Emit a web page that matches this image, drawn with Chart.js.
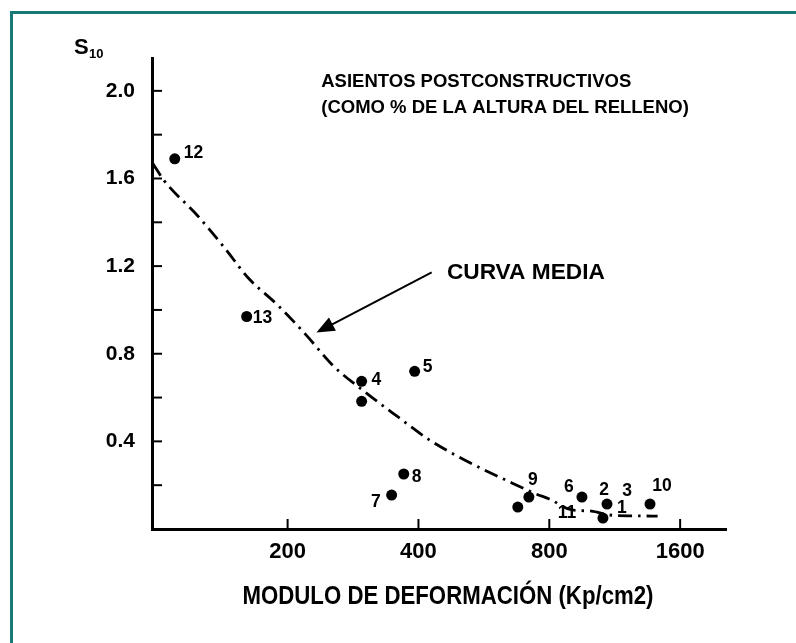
<!DOCTYPE html>
<html>
<head>
<meta charset="utf-8">
<script src="https://cdn.jsdelivr.net/npm/chart.js@4.4.1/dist/chart.umd.min.js"></script>
<style>
html, body { margin: 0; padding: 0; background: #fff; }
#wrap { position: relative; width: 796px; height: 643px; overflow: hidden; }
#frame { position: absolute; left: 10px; top: 11px; width: 820px; height: 700px;
  border-top: 3px solid #177878; border-left: 3px solid #177878; }
canvas { position: absolute; left: 0; top: 0; }
</style>
</head>
<body>
<div id="wrap">
  <div id="frame"></div>
  <canvas id="chartjs" width="796" height="643"></canvas>
</div>
<script>
// puntos medidos: modulo de deformacion (Kp/cm2) y asiento S10 (%)
const pointE = [110, 161, 296, 296, 392, 370, 347, 718, 677, 951, 1086, 1063, 1364];
const pointS = [1.69, 0.97, 0.674, 0.583, 0.72, 0.251, 0.155, 0.146, 0.10, 0.146, 0.114, 0.05, 0.114];

// numeros de obra y el punto al que pertenecen
const labelTexts = ['12', '13', '4', '5', '8', '7', '9', '6', '2', '3', '1', '11', '10'];
const labelOf = [0, 1, 2, 4, 5, 6, 7, 9, 10, 10, 11, 11, 12];

// curva media
const curveE = [98, 104, 124, 143, 162, 190, 221, 254, 302, 357, 425, 512, 650, 748, 800, 902, 1000, 1100, 1250, 1420];
const curveS = [1.667, 1.59, 1.431, 1.285, 1.148, 1.021, 0.884, 0.747, 0.624, 0.515, 0.405, 0.314, 0.214, 0.159, 0.137, 0.087, 0.082, 0.064, 0.06, 0.059];

// ejes
const xTicks = [200, 400, 800, 1600];
const yLabelTicks = [0.4, 0.8, 1.2, 1.6, 2.0];
const yMarkTicks = [0.2, 0.4, 0.6, 0.8, 1.0, 1.2, 1.4, 1.6, 1.8, 2.0];

// posicion de cada numero respecto a su punto (px)
const labelOffsets = [
  [9, -6, 'left'], [6, 2, 'left'], [10, -1, 'left'], [8, -4, 'left'],
  [8, 3, 'left'], [-11, 7, 'right'], [4, -17, 'center'], [-13, -10, 'center'],
  [-3, -14, 'center'], [20, -13, 'center'], [19, -10, 'center'], [-36, -5, 'center'],
  [12, -18, 'center']
];

const FONT = "'Liberation Sans', Arial, sans-serif";

const decor = {
  id: 'decor',
  afterDraw(chart) {
    const { ctx, chartArea: a, scales: { x, y } } = chart;
    ctx.save();
    ctx.strokeStyle = '#000';
    ctx.fillStyle = '#000';
    ctx.lineWidth = 2;
    // marcas hacia dentro
    yMarkTicks.forEach(v => {
      const py = y.getPixelForValue(v);
      ctx.beginPath(); ctx.moveTo(a.left, py); ctx.lineTo(a.left + 10, py); ctx.stroke();
    });
    xTicks.forEach(v => {
      const px = x.getPixelForValue(v);
      ctx.beginPath(); ctx.moveTo(px, a.bottom); ctx.lineTo(px, a.bottom - 10); ctx.stroke();
    });

    // numeros de los puntos
    const meta = chart.getDatasetMeta(1);
    ctx.font = 'bold 17.5px ' + FONT;
    ctx.textBaseline = 'middle';
    labelTexts.forEach((t, i) => {
      const el = meta.data[labelOf[i]];
      const [dx, dy, al] = labelOffsets[i];
      ctx.textAlign = al;
      ctx.fillText(t, el.x + dx, el.y + dy);
    });

    // flecha "curva media"
    const tx = x.getPixelForValue(429), ty = y.getPixelForValue(1.171);
    const hx = x.getPixelForValue(233), hy = y.getPixelForValue(0.897);
    const ang = Math.atan2(hy - ty, hx - tx);
    ctx.lineWidth = 2;
    ctx.beginPath(); ctx.moveTo(tx, ty);
    ctx.lineTo(hx - 14 * Math.cos(ang), hy - 14 * Math.sin(ang)); ctx.stroke();
    ctx.beginPath();
    ctx.moveTo(hx, hy);
    ctx.lineTo(hx - 18 * Math.cos(ang) + 7.5 * Math.sin(ang), hy - 18 * Math.sin(ang) - 7.5 * Math.cos(ang));
    ctx.lineTo(hx - 18 * Math.cos(ang) - 7.5 * Math.sin(ang), hy - 18 * Math.sin(ang) + 7.5 * Math.cos(ang));
    ctx.closePath(); ctx.fill();

    ctx.textAlign = 'left';
    ctx.font = 'bold 22.7px ' + FONT;
    ctx.fillText('CURVA MEDIA', x.getPixelForValue(465), y.getPixelForValue(1.171));

    ctx.font = 'bold 18.5px ' + FONT;
    ctx.fillText('ASIENTOS POSTCONSTRUCTIVOS', x.getPixelForValue(239), y.getPixelForValue(2.041));
    ctx.fillText('(COMO % DE LA ALTURA DEL RELLENO)', x.getPixelForValue(239), y.getPixelForValue(1.923));

    // titulos de ejes
    ctx.textBaseline = 'alphabetic';
    ctx.font = 'bold 22px ' + FONT;
    ctx.fillText('S', 74, 54);
    ctx.font = 'bold 13px ' + FONT;
    ctx.fillText('10', 89, 58);

    // titulo del eje x, letra estrecha como en el original
    const xTitle = 'MODULO DE DEFORMACIÓN (Kp/cm2)';
    ctx.textAlign = 'center';
    ctx.textBaseline = 'middle';
    ctx.font = 'bold 25px ' + FONT;
    const w = ctx.measureText(xTitle).width;
    ctx.translate(448, 597);
    ctx.scale(411 / w, 1);
    ctx.fillText(xTitle, 0, 0);
    ctx.restore();
  }
};

const ctx = document.getElementById('chartjs').getContext('2d');
const myChart = new Chart(ctx, {
  type: 'scatter',
  data: {
    datasets: [{
      label: 'Curva media',
      data: curveE.map((e, i) => ({ x: e, y: curveS[i] })),
      showLine: true,
      borderColor: '#000',
      borderWidth: 2.8,
      borderDash: [14, 6, 2.5, 6],
      pointRadius: 0,
      tension: 0.3,
      cubicInterpolationMode: 'monotone',
      order: 2
    }, {
      label: 'Obras',
      data: pointE.map((e, i) => ({ x: e, y: pointS[i] })),
      backgroundColor: '#000',
      borderWidth: 0,
      pointRadius: 5.5,
      order: 1
    }]
  },
  options: {
    responsive: false,
    animation: false,
    layout: { padding: { top: 58, right: 70, bottom: 0, left: 0 } },
    plugins: { legend: { display: false }, tooltip: { enabled: false } },
    scales: {
      x: {
        type: 'logarithmic',
        min: 97.5,
        max: 2040,
        afterBuildTicks: s => { s.ticks = xTicks.map(v => ({ value: v })); },
        afterFit: s => { s.height = 114; },
        grid: { display: false, drawTicks: false },
        border: { display: true, color: '#000', width: 3 },
        ticks: {
          color: '#000',
          padding: 10,
          maxRotation: 0,
          autoSkip: false,
          font: { family: FONT, size: 22, weight: 'bold' },
          callback: v => String(v)
        }
      },
      y: {
        min: 0,
        max: 2.15,
        afterBuildTicks: s => { s.ticks = yLabelTicks.map(v => ({ value: v })); },
        afterFit: s => { s.width = 152; },
        grid: { display: false, drawTicks: false },
        border: { display: true, color: '#000', width: 3 },
        ticks: {
          color: '#000',
          padding: 17,
          font: { family: FONT, size: 21, weight: 'bold' },
          callback: v => Number(v).toFixed(1)
        }
      }
    }
  },
  plugins: [decor]
});
</script>
</body>
</html>
